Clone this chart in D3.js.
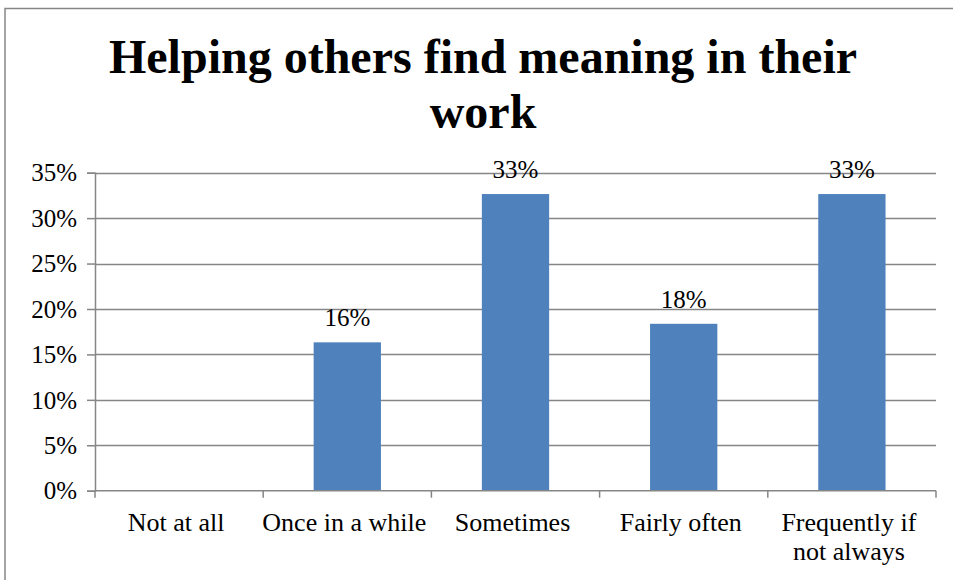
<!DOCTYPE html>
<html>
<head>
<meta charset="utf-8">
<script src="https://cdn.jsdelivr.net/npm/d3@7/dist/d3.min.js"></script>
<style>
  html, body { margin: 0; padding: 0; background: #fff; }
  svg { display: block; }
</style>
</head>
<body>
<svg id="chart" width="953" height="580"></svg>
<script>
// Survey responses: share of respondents per frequency
const categories = ["Not at all", "Once in a while", "Sometimes", "Fairly often", "Frequently if not always"];
const shares = [0, 0.1633, 0.3265, 0.1837, 0.3265];
const valueLabels = ["", "16%", "33%", "18%", "33%"];
const yTicks = [0, 0.05, 0.10, 0.15, 0.20, 0.25, 0.30, 0.35];
const titleLines = ["Helping others find meaning in their", "work"];

const SERIF = "Liberation Serif";
const svg = d3.select("#chart");
const plot = { left: 95, right: 936, top: 172.7, bottom: 490.7 };
const gridColor = "#868686";
const catSize = 26, numSize = 25;

// chart frame
svg.append("rect")
  .attr("x", 5).attr("y", 8.5)
  .attr("width", 960).attr("height", 600)
  .attr("fill", "none").attr("stroke", gridColor).attr("stroke-width", 1.5);

// title
const title = svg.append("text")
  .attr("font-family", SERIF)
  .attr("text-anchor", "middle")
  .attr("font-size", 48).attr("font-weight", "bold").attr("fill", "#000");
titleLines.forEach((line, i) => {
  title.append("tspan").attr("x", 483).attr("y", 72.5 + i * 55).text(line);
});

const x = d3.scaleBand().domain(categories).range([plot.left, plot.right]).paddingInner(0.6).paddingOuter(0.3);
const y = d3.scaleLinear().domain([0, 0.35]).range([plot.bottom, plot.top]);

// horizontal gridlines
svg.append("g")
  .selectAll("line").data(yTicks.filter(t => t > 0)).join("line")
  .attr("x1", plot.left).attr("x2", plot.right)
  .attr("y1", d => Math.round(y(d)) + 0.5).attr("y2", d => Math.round(y(d)) + 0.5)
  .attr("stroke", gridColor).attr("stroke-width", 1.5);

// y axis
const yAxis = d3.axisLeft(y).tickValues(yTicks).tickFormat(d3.format(".0%")).tickSize(8).tickPadding(10);
const gy = svg.append("g").attr("transform", `translate(${plot.left},0)`).call(yAxis)
  .attr("font-family", SERIF).attr("font-size", numSize);
gy.select(".domain").attr("stroke", gridColor).attr("stroke-width", 1.5);
gy.selectAll(".tick line").attr("stroke", gridColor).attr("stroke-width", 1.5);
gy.selectAll(".tick text").attr("fill", "#000").attr("dy", "0.33em");

// bars
svg.append("g")
  .selectAll("rect").data(categories).join("rect")
  .attr("x", d => x(d))
  .attr("width", x.bandwidth())
  .attr("y", (d, i) => y(shares[i]))
  .attr("height", (d, i) => y(0) - y(shares[i]))
  .attr("fill", "#4F81BD");

// x axis with ticks at category boundaries
const bounds = d3.range(categories.length + 1).map(i => plot.left + i * (plot.right - plot.left) / categories.length);
svg.append("line")
  .attr("x1", plot.left).attr("x2", plot.right)
  .attr("y1", y(0)).attr("y2", y(0))
  .attr("stroke", gridColor).attr("stroke-width", 1.5);
svg.append("g").selectAll("line").data(bounds).join("line")
  .attr("x1", d => d).attr("x2", d => d)
  .attr("y1", y(0)).attr("y2", y(0) + 7)
  .attr("stroke", gridColor).attr("stroke-width", 1.5);

// category labels, wrapped where the band is too narrow
const catLines = [["Not at all"], ["Once in a while"], ["Sometimes"], ["Fairly often"], ["Frequently if", "not always"]];
const xl = svg.append("g").attr("font-family", SERIF).attr("font-size", catSize);
categories.forEach((c, i) => {
  const cx = x(c) + x.bandwidth() / 2 - 3;
  const t = xl.append("text").attr("text-anchor", "middle").attr("fill", "#000");
  catLines[i].forEach((ln, j) => {
    t.append("tspan").attr("x", cx).attr("y", 530.5 + j * 29).text(ln);
  });
});

// value labels above bars
svg.append("g").attr("font-family", SERIF).attr("font-size", numSize)
  .selectAll("text").data(categories).join("text")
  .attr("text-anchor", "middle").attr("fill", "#000")
  .attr("x", d => x(d) + x.bandwidth() / 2)
  .attr("y", (d, i) => y(shares[i]) - 16)
  .text((d, i) => valueLabels[i]);
</script>
</body>
</html>
